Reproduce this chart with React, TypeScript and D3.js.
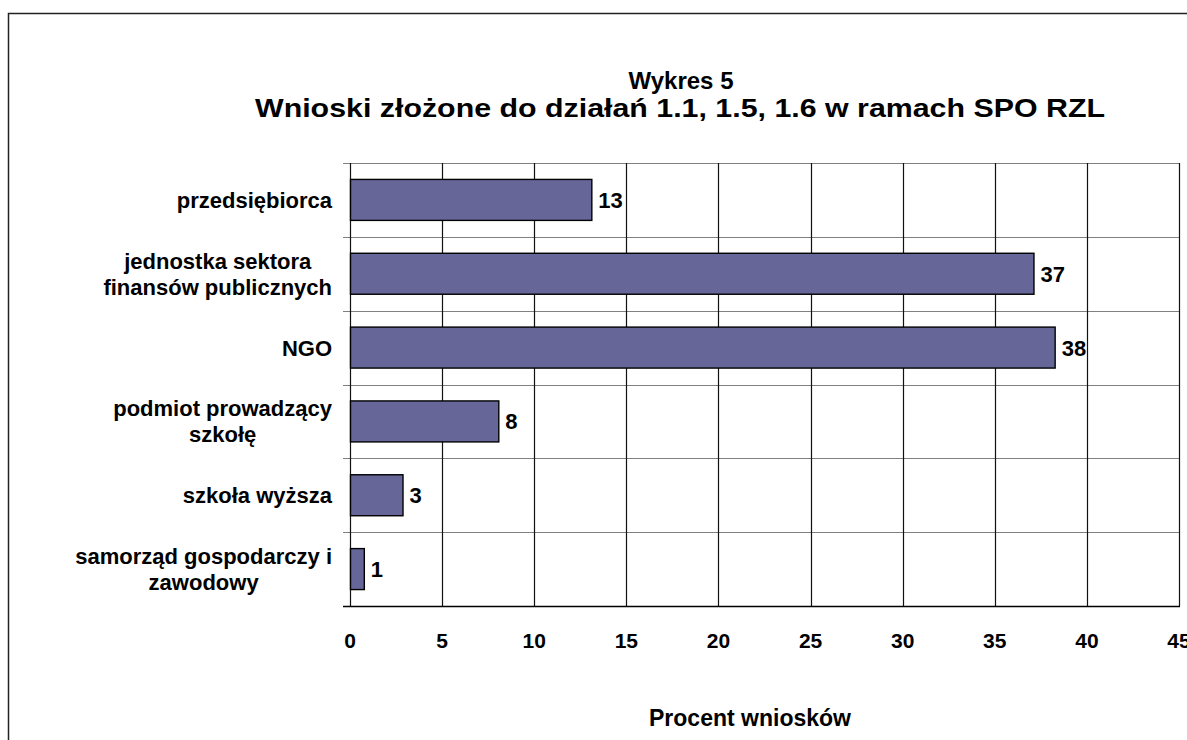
import React, { useEffect, useRef } from 'react';
import * as d3 from 'd3';

// chart data
const categories = [
  'przedsiębiorca',
  'jednostka sektora|finansów publicznych',
  'NGO',
  'podmiot prowadzący|szkołę',
  'szkoła wyższa',
  'samorząd gospodarczy i|zawodowy',
];
const percentValues = [13.1, 37.1, 38.25, 8.05, 2.85, 0.75];
const valueLabels = ['13', '37', '38', '8', '3', '1'];
const xTicks = [0, 5, 10, 15, 20, 25, 30, 35, 40, 45];
const titleLines = ['Wykres 5', 'Wnioski złożone do działań 1.1, 1.5, 1.6 w ramach SPO RZL'];
const xAxisTitle = 'Procent wniosków';

const FONT = '"Liberation Sans", Arial, sans-serif';

const App = () => {
  const svgRef = useRef<SVGSVGElement | null>(null);

  useEffect(() => {
    renderChart();
  }, []);

  const renderChart = () => {
    const svg = d3.select(svgRef.current);
    svg.selectAll('*').remove();

    const plot = { left: 350, right: 1179, top: 163, bottom: 606 };

    const xScale = d3.scaleLinear().domain([0, 45]).range([plot.left, plot.right]);
    const yScale = d3
      .scaleBand<string>()
      .domain(categories)
      .range([plot.top, plot.bottom])
      .paddingInner(0.445)
      .paddingOuter(0.2225);

    // outer frame
    svg
      .append('rect')
      .attr('x', 8.5)
      .attr('y', 13.5)
      .attr('width', 1400)
      .attr('height', 900)
      .attr('fill', '#ffffff')
      .attr('stroke', '#222222')
      .attr('stroke-width', 1.5);

    // title (second line spans wide, as in the original)
    const title = svg.append('g');
    title
      .append('text')
      .attr('x', 681)
      .attr('y', 89)
      .attr('text-anchor', 'middle')
      .style('font-family', FONT)
      .style('font-weight', 'bold')
      .style('font-size', '24px')
      .text(titleLines[0]);
    title
      .append('text')
      .attr('x', 680)
      .attr('y', 117)
      .attr('text-anchor', 'middle')
      .attr('textLength', 850)
      .attr('lengthAdjust', 'spacingAndGlyphs')
      .style('font-family', FONT)
      .style('font-weight', 'bold')
      .style('font-size', '26px')
      .text(titleLines[1]);

    // horizontal lines at band boundaries (gray), with tick stubs on the left
    const step = yScale.step();
    const boundaries = d3.range(categories.length).map((i) => plot.top + i * step);
    svg
      .append('g')
      .selectAll('line')
      .data(boundaries)
      .enter()
      .append('line')
      .attr('x1', plot.left - 7)
      .attr('x2', plot.right)
      .attr('y1', (d) => Math.round(d) + 0.5)
      .attr('y2', (d) => Math.round(d) + 0.5)
      .attr('stroke', '#808080')
      .attr('stroke-width', 1.2);

    // vertical gridlines
    svg
      .append('g')
      .selectAll('line')
      .data(xTicks)
      .enter()
      .append('line')
      .attr('x1', (d) => Math.round(xScale(d)) + 0.5)
      .attr('x2', (d) => Math.round(xScale(d)) + 0.5)
      .attr('y1', plot.top)
      .attr('y2', plot.bottom)
      .attr('stroke', '#111111')
      .attr('stroke-width', 1.2);

    // bottom axis line
    svg
      .append('line')
      .attr('x1', plot.left - 7)
      .attr('x2', plot.right + 1)
      .attr('y1', plot.bottom + 0.5)
      .attr('y2', plot.bottom + 0.5)
      .attr('stroke', '#000000')
      .attr('stroke-width', 1.5);

    // bars
    svg
      .append('g')
      .selectAll('rect')
      .data(percentValues)
      .enter()
      .append('rect')
      .attr('x', xScale(0) + 0.5)
      .attr('y', (d, i) => yScale(categories[i]) as number)
      .attr('width', (d) => xScale(d) - xScale(0))
      .attr('height', yScale.bandwidth())
      .attr('fill', '#666699')
      .attr('stroke', '#000000')
      .attr('stroke-width', 1.4);

    // value labels
    svg
      .append('g')
      .selectAll('text')
      .data(percentValues)
      .enter()
      .append('text')
      .attr('x', (d) => xScale(d) + 7)
      .attr('y', (d, i) => (yScale(categories[i]) as number) + yScale.bandwidth() / 2)
      .attr('dy', '0.36em')
      .style('font-family', FONT)
      .style('font-weight', 'bold')
      .style('font-size', '22px')
      .text((d, i) => valueLabels[i]);

    // x tick labels
    svg
      .append('g')
      .selectAll('text')
      .data(xTicks)
      .enter()
      .append('text')
      .attr('x', (d) => xScale(d))
      .attr('y', 648)
      .attr('text-anchor', 'middle')
      .style('font-family', FONT)
      .style('font-weight', 'bold')
      .style('font-size', '21px')
      .text((d) => d);

    // x axis title
    svg
      .append('text')
      .attr('x', 750)
      .attr('y', 726)
      .attr('text-anchor', 'middle')
      .style('font-family', FONT)
      .style('font-weight', 'bold')
      .style('font-size', '23px')
      .text(xAxisTitle);

    // category labels: lines centered within their block, block right-aligned
    const labelRight = 332;
    const lineHeight = 26;
    categories.forEach((cat) => {
      const lines = cat.split('|');
      const cy = (yScale(cat) as number) + yScale.bandwidth() / 2;
      const g = svg.append('g');
      const texts = g
        .selectAll('text')
        .data(lines)
        .enter()
        .append('text')
        .attr('y', (d, j) => cy + (j - (lines.length - 1) / 2) * lineHeight)
        .attr('dy', '0.36em')
        .attr('text-anchor', 'middle')
        .style('font-family', FONT)
        .style('font-weight', 'bold')
        .style('font-size', '22px')
        .text((d) => d);
      let maxW = 0;
      texts.each(function () {
        maxW = Math.max(maxW, (this as SVGTextElement).getComputedTextLength());
      });
      texts.attr('x', labelRight - maxW / 2);
    });
  };

  return (
    <svg
      ref={svgRef}
      width={1187}
      height={740}
      style={{ position: 'absolute', left: 0, top: 0, background: '#ffffff' }}
    />
  );
};

export default App;
